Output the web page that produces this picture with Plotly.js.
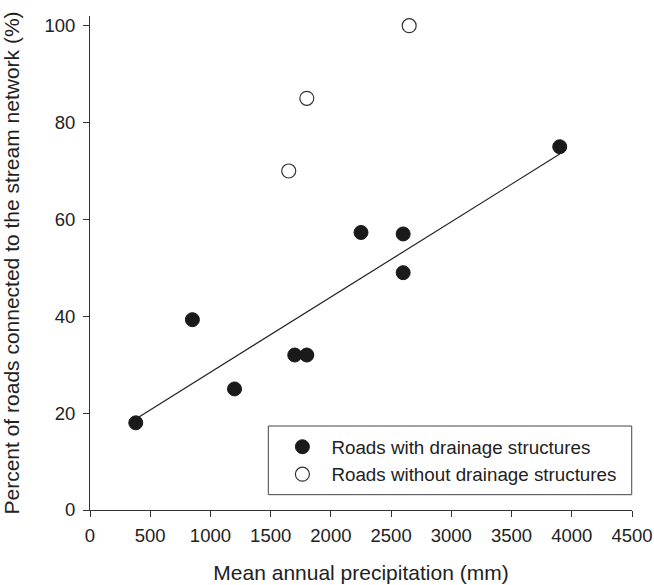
<!DOCTYPE html>
<html>
<head>
<meta charset="utf-8">
<script src="https://cdn.plot.ly/plotly-3.0.1.min.js"></script>
<style>html,body{margin:0;padding:0;background:#fff;}#chart{width:654px;height:585px;}</style>
</head>
<body>
<div id="chart"></div>
<script>
// Roads with drainage structures
var withX = [380, 850, 1200, 1700, 1800, 2250, 2600, 2600, 3900];
var withY = [18, 39.3, 25, 32, 32, 57.3, 57, 49, 75];
// Roads without drainage structures
var withoutX = [1650, 1800, 2650];
var withoutY = [70, 85, 100];
// Regression line (drawn for roads with drainage structures)
var fitX = [380, 3900];
var fitY = [18.8, 73.5];

var xTicks = [0, 500, 1000, 1500, 2000, 2500, 3000, 3500, 4000, 4500];
var yTicks = [0, 20, 40, 60, 80, 100];

var FONT = 'Liberation Sans, Arial, sans-serif';
var TXT = '#222';

var traces = [
  {x: fitX, y: fitY, mode: 'lines', line: {color: '#222', width: 1.2}, showlegend: false, hoverinfo: 'skip'},
  {x: withX, y: withY, mode: 'markers', name: 'Roads with drainage structures',
   marker: {symbol: 'circle', size: 14, color: '#1a1a1a', line: {color: '#1a1a1a', width: 1}}},
  {x: withoutX, y: withoutY, mode: 'markers', name: 'Roads without drainage structures',
   marker: {symbol: 'circle', size: 14, color: '#fff', line: {color: '#333', width: 1.2}}}
];

var layout = {
  width: 654, height: 585,
  margin: {l: 90, r: 22, t: 16, b: 75},
  paper_bgcolor: '#fff', plot_bgcolor: '#fff',
  font: {family: FONT, size: 18, color: TXT},
  showlegend: true,
  xaxis: {
    range: [0, 4500], tickvals: xTicks, ticktext: xTicks.map(String),
    showline: true, linecolor: '#333', linewidth: 1,
    ticks: 'outside', ticklen: 6, tickcolor: '#333', tickwidth: 1,
    showgrid: false, zeroline: false, ticklabelstandoff: 3,
    tickfont: {size: 18.5, color: TXT},
    title: {text: 'Mean annual precipitation (mm)', font: {size: 21, color: TXT}, standoff: 20}
  },
  yaxis: {
    range: [0, 102], tickvals: yTicks, ticktext: yTicks.map(String),
    showline: true, linecolor: '#333', linewidth: 1,
    ticks: 'outside', ticklen: 6, tickcolor: '#333', tickwidth: 1,
    showgrid: false, zeroline: false, ticklabelstandoff: 4,
    tickfont: {size: 18.5, color: TXT},
    title: {text: 'Percent of roads connected to the stream network (%)', font: {size: 21, color: TXT}, standoff: 22}
  },
  shapes: [{
    type: 'rect', xref: 'paper', yref: 'paper', layer: 'above',
    x0: 0.329, x1: 0.9995, y0: 0.031, y1: 0.170,
    line: {color: '#444', width: 1}, fillcolor: 'rgba(0,0,0,0)'
  }],
  legend: {
    x: 0.331, y: 0.166, xanchor: 'left', yanchor: 'top',
    borderwidth: 0, bgcolor: 'rgba(0,0,0,0)',
    font: {size: 18.8, color: TXT},
    itemwidth: 48, indentation: 4, tracegroupgap: 0
  }
};

Plotly.newPlot('chart', traces, layout, {displayModeBar: false, staticPlot: true});
</script>
</body>
</html>
